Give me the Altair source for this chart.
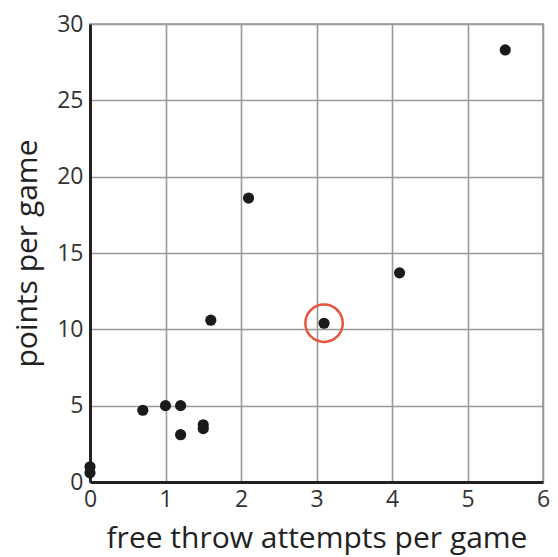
import altair as alt
import pandas as pd

xs = [0, 0, 0.7, 1.0, 1.2, 1.2, 1.5, 1.5, 1.6, 2.1, 3.1, 4.1, 5.5]
ys = [1.0, 0.6, 4.7, 5.0, 5.0, 3.1, 3.5, 3.75, 10.6, 18.6, 10.4, 13.7, 28.3]
hx = [3.1]
hy = [10.4]

df = pd.DataFrame({"x": xs, "y": ys})
hdf = pd.DataFrame({"x": hx, "y": hy})

xscale = alt.Scale(domain=[0, 6], nice=False, zero=False)
yscale = alt.Scale(domain=[0, 30], nice=False, zero=False)

xax = alt.Axis(title="free throw attempts per game", values=[0, 1, 2, 3, 4, 5, 6],
               format="d", labelFlush=False,
               grid=True, gridColor="#999999", gridWidth=1.6, domainColor="#222222",
               domainWidth=3, ticks=False, labelFontSize=23, labelColor="#333333",
               labelPadding=6, titleFontSize=30, titleFontWeight="normal",
               titleColor="#222222", titlePadding=12, labelFont="Open Sans",
               titleFont="Open Sans")
yax = alt.Axis(title="points per game", values=[0, 5, 10, 15, 20, 25, 30],
               format="d", labelFlush=False,
               grid=True, gridColor="#999999", gridWidth=1.6, domainColor="#222222",
               domainWidth=3, ticks=False, labelFontSize=23, labelColor="#333333",
               labelPadding=7, titleFontSize=30, titleFontWeight="normal",
               titleColor="#222222", titlePadding=14, labelFont="Open Sans",
               titleFont="Open Sans")

pts = alt.Chart(df).mark_circle(size=125, color="#1a1a1a", opacity=1).encode(
    x=alt.X("x:Q", scale=xscale, axis=xax),
    y=alt.Y("y:Q", scale=yscale, axis=yax),
)
ring = alt.Chart(hdf).mark_point(size=1400, color="#e8553e", strokeWidth=2.5,
                                 filled=False, opacity=1).encode(
    x=alt.X("x:Q", scale=xscale),
    y=alt.Y("y:Q", scale=yscale),
)

chart = (pts + ring).properties(
    width=453, height=458,
    autosize=alt.AutoSizeParams(type="none"),
    padding={"left": 82, "top": 16, "right": 7, "bottom": 76},
).configure_view(stroke="#999999", strokeWidth=1.6)

chart.save("out.html", embed_options={"renderer": "svg", "actions": False})
